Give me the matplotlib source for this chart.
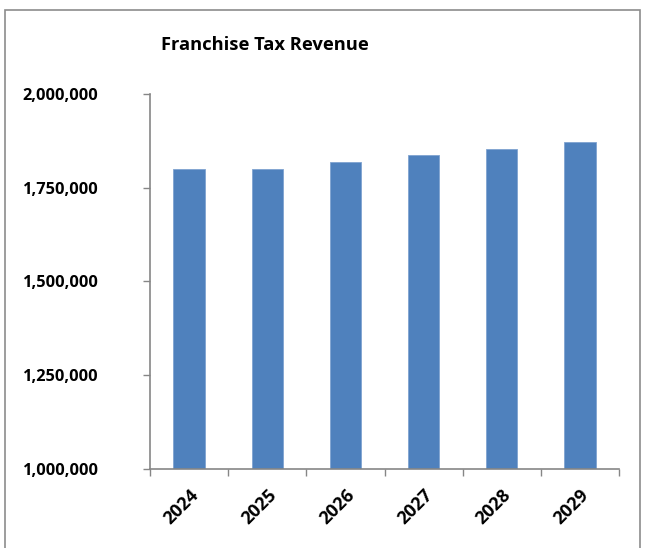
import matplotlib.pyplot as plt
from matplotlib.patches import Rectangle
from matplotlib.ticker import FuncFormatter
import numpy as np

# data
years = ["2024", "2025", "2026", "2027", "2028", "2029"]
revenue = [1800000, 1800000, 1818000, 1836500, 1854000, 1872800]

plt.rcParams['font.family'] = ['Open Sans', 'DejaVu Sans']
bar_color = "#4F81BD"
axis_color = "#868686"

fig = plt.figure(figsize=(6.45, 5.48), dpi=100)
ax = fig.add_axes([0.2326, 0.1442, 0.7271, 0.6843])

x = np.arange(len(years))
ax.bar(x, revenue, width=0.4, color=bar_color, edgecolor="#7fa3d0", linewidth=0.6, zorder=2)

ax.set_ylim(1000000, 2000000)
ax.set_xlim(-0.5, len(years) - 0.5)
ax.set_yticks(np.arange(1000000, 2000001, 250000))
ax.yaxis.set_major_formatter(FuncFormatter(lambda v, p: f"{int(v):,}"))

# Excel style: category ticks sit between the bars
ax.set_xticks(np.arange(-0.5, len(years)), minor=False)
ax.set_xticklabels([])
ax.set_xticks(x, minor=True)
ax.set_xticklabels(years, minor=True, rotation=45, ha="right", va="top",
                   rotation_mode="anchor", fontsize=13, fontweight="bold")
ax.tick_params(axis="x", which="minor", length=0, pad=12)
ax.tick_params(axis="x", which="major", length=5, width=1, color=axis_color, direction="out")
ax.tick_params(axis="y", length=5, width=1, color=axis_color, direction="out",
               pad=32, labelsize=11.8)
for lab in ax.get_yticklabels():
    lab.set_fontweight("bold")

for side in ["top", "right"]:
    ax.spines[side].set_visible(False)
for side in ["left", "bottom"]:
    ax.spines[side].set_color(axis_color)
    ax.spines[side].set_linewidth(1.2)

fig.text(0.41, 0.918, "Franchise Tax Revenue", ha="center", va="center",
         fontsize=13.2, fontweight="bold")

# chart frame
fig.patches.append(Rectangle((5 / 645, -0.02), 635 / 645, 1 - 10 / 548 + 0.02,
                             transform=fig.transFigure, fill=False,
                             edgecolor="#8c8c8c", linewidth=1.2))

fig.savefig("out.png", dpi=100)
